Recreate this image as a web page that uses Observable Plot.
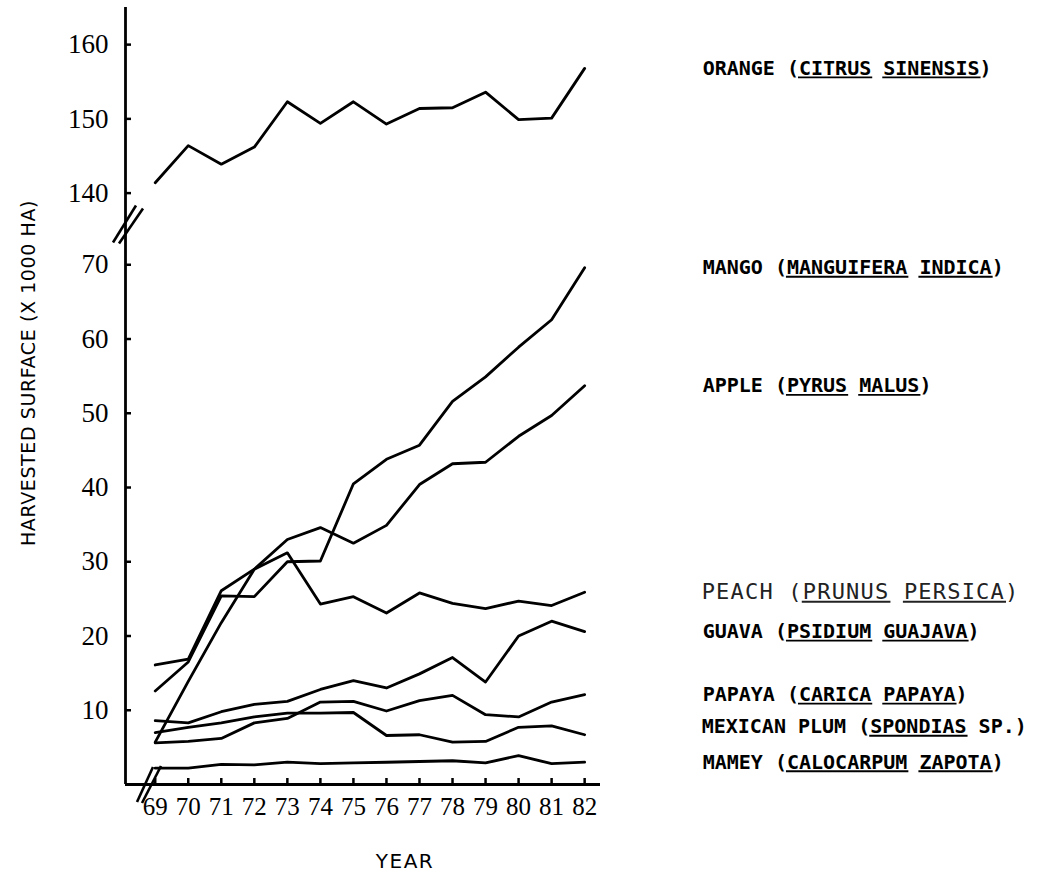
<!DOCTYPE html>
<html><head><meta charset="utf-8">
<script src="https://cdn.jsdelivr.net/npm/d3@7"></script>
<script src="https://cdn.jsdelivr.net/npm/@observablehq/plot@0.6"></script>
<style>
body{margin:0;background:#fff}
#chart svg{display:block}
</style>
</head><body><div id="chart"></div>
<script>
// ---- data (harvested surface, x 1000 ha) ----
const years = [69,70,71,72,73,74,75,76,77,78,79,80,81,82];
const orange = [141.4,146.4,143.9,146.2,152.3,149.4,152.3,149.3,151.4,151.5,153.6,149.9,150.1,156.8];
const mango  = [12.6,16.5,25.4,25.3,30.0,30.1,40.5,43.8,45.7,51.6,54.9,58.9,62.6,69.6];
const apple  = [16.1,16.9,26.1,29.0,33.0,34.6,32.5,34.9,40.4,43.2,43.4,46.9,49.7,53.7];
const peach  = [5.7,13.9,21.8,29.0,31.2,24.3,25.3,23.1,25.8,24.4,23.7,24.7,24.1,25.9];
const guava  = [8.6,8.3,9.8,10.8,11.2,12.8,14.0,13.0,14.9,17.1,13.8,20.0,22.0,20.6];
const papaya = [5.6,5.8,6.2,8.3,8.9,11.1,11.2,9.9,11.3,12.0,9.4,9.1,11.1,12.1];
const plum   = [7.0,7.7,8.3,9.1,9.6,9.6,9.7,6.6,6.7,5.7,5.8,7.7,7.9,6.7];
const mamey  = [2.2,2.2,2.7,2.65,3.0,2.8,2.9,3.0,3.1,3.2,2.9,3.9,2.8,3.0];

const commonNames = ["ORANGE","MANGO","APPLE","PEACH","GUAVA","PAPAYA","MEXICAN PLUM","MAMEY"];
const sciNames = ["CITRUS SINENSIS","MANGUIFERA INDICA","PYRUS MALUS","PRUNUS PERSICA","PSIDIUM GUAJAVA","CARICA PAPAYA","SPONDIAS SP.","CALOCARPUM ZAPOTA"];
const yTicks = [10,20,30,40,50,60,70,140,150,160];
const yTitle = "HARVESTED SURFACE (X 1000 HA)";
const xTitle = "YEAR";

// ---- broken y axis: values above the break are shifted down ----
const breakLow = 70, breakHigh = 140, breakGap = 9.65, yTop = 165;
const brk = v => v >= breakHigh ? v - breakHigh + breakLow + breakGap : v;
const unbrk = t => t > breakLow + breakGap / 2 ? t - breakLow - breakGap + breakHigh : t;

// ---- build tables ----
const seriesValues = [orange, mango, apple, peach, guava, papaya, plum, mamey];
const rows = seriesValues.flatMap((vals, i) => vals.map((v, j) => ({series: commonNames[i], year: years[j], value: v, plotted: brk(v)})));
const ends = seriesValues.map((vals, i) => {
  const v = vals[vals.length - 1];
  return {series: commonNames[i], sci: sciNames[i], year: years[years.length - 1], value: v, plotted: brk(v), label: `${commonNames[i]} (${sciNames[i]})`};
});

// ---- layout ----
const W = 1039, H = 877;
const mL = 125, mR = 439, mB = 93, mT = 7;
const mono = "DejaVu Sans Mono";
const serif = "Liberation Serif";
const sans = "DejaVu Sans";
const x0 = 68.1;

const plot = Plot.plot({
  width: W, height: H,
  marginLeft: mL, marginRight: mR, marginBottom: mB, marginTop: mT,
  style: {fontFamily: serif, fontSize: "25px", background: "#fff", color: "#000"},
  x: {domain: [x0, 82.48]},
  y: {domain: [0, brk(yTop)]},
  marks: [
    Plot.axisY({ticks: yTicks.map(brk), tickSize: -6, tickPadding: 23, tickFormat: t => Math.round(unbrk(t)), label: null, strokeWidth: 2.5, fontFamily: serif, fontSize: 27}),
    Plot.axisX({ticks: years, tickSize: -6, tickPadding: 19, tickFormat: d => d, label: null, strokeWidth: 2.5, fontFamily: serif, fontSize: 25}),
    Plot.ruleX([x0], {stroke: "#000", strokeWidth: 2.8}),
    Plot.ruleY([0], {stroke: "#000", strokeWidth: 2.8}),
    Plot.line(rows, {x: "year", y: "plotted", z: "series", stroke: "#000", strokeWidth: 2.8}),
    Plot.text(ends.filter(d => d.series !== "PEACH" && d.series !== "MEXICAN PLUM"), {x: "year", y: "plotted", text: "label", dx: 118, textAnchor: "start", fontFamily: mono, fontSize: 20, fontWeight: "bold", fill: "#000"}),
    Plot.text(ends.filter(d => d.series === "MEXICAN PLUM"), {x: "year", y: "plotted", text: "label", dx: 117, dy: -8, textAnchor: "start", fontFamily: mono, fontSize: 20, fontWeight: "bold", fill: "#000"}),
    Plot.text(ends.filter(d => d.series === "PEACH"), {x: "year", y: "plotted", text: "label", dx: 117, textAnchor: "start", fontFamily: mono, fontSize: 22, fontWeight: "normal", fill: "#222"}),
    Plot.text([yTitle], {frameAnchor: "left", textAnchor: "middle", rotate: -90, dx: -97, dy: -23, fontFamily: sans, fontSize: 19, fill: "#000"}),
    Plot.text([xTitle], {frameAnchor: "bottom", textAnchor: "middle", dx: 42, dy: 83, fontFamily: sans, fontSize: 20, fill: "#000"})
  ]
});

document.getElementById("chart").appendChild(plot);

const svg = d3.select(plot);
const byText = s => svg.selectAll("text").filter(function() { return this.textContent === s; });
byText(yTitle).style("letter-spacing", "0.6px");
byText(xTitle).style("letter-spacing", "1.5px");

// split labels into common name + underlined scientific words
ends.forEach(d => {
  byText(d.label).each(function() {
    const t = d3.select(this);
    if (d.series === "PEACH") t.style("letter-spacing", "1.2px");
    const color = d.series === "PEACH" ? "#222" : "#000";
    t.text(null);
    t.append("tspan").text(d.series + " (");
    const under = [];
    d.sci.split(" ").forEach((w, i) => {
      if (i > 0) t.append("tspan").text(" ");
      const s = t.append("tspan").text(w);
      if (w !== "SP.") under.push(s.node());
    });
    t.append("tspan").text(")");
    // measure words and draw underlines in the text's own coordinate system
    const parent = d3.select(this.parentNode);
    const tr = this.getAttribute("transform");
    const full = this.getBBox();
    const textNode = this;
    under.forEach(node => {
      // character-based extent (robust across renderers)
      const before = [...textNode.childNodes].slice(0, [...textNode.childNodes].indexOf(node))
        .map(n => n.textContent).join("").length;
      const n = node.textContent.length;
      const start = textNode.getStartPositionOfChar(before);
      const end = textNode.getEndPositionOfChar(before + n - 1);
      const yLine = full.y + full.height * 0.9;
      const ln = parent.append("line")
        .attr("x1", start.x - 1).attr("x2", end.x + 1)
        .attr("y1", yLine).attr("y2", yLine)
        .attr("stroke", color)
        .attr("stroke-width", 1.8);
      if (tr) ln.attr("transform", tr);
    });
  });
});

// axis break marks
const xs = plot.scale("x"), ys = plot.scale("y");
const ax = xs.apply(x0);
const byMid = (ys.apply(breakLow) + ys.apply(breakLow + breakGap)) / 2 - 4;
const g = svg.append("g").attr("stroke", "#000").attr("stroke-width", 2.6).attr("fill", "none");
[[-12, 18, 11, -19], [-6, 19, 18, -16]].forEach(([a, b, c, d]) => {
  g.append("line").attr("x1", ax + a).attr("y1", byMid + b).attr("x2", ax + c).attr("y2", byMid + d);
});
const bx = ax + 24, bxy = ys.apply(0);
[[-12, 18, 4, -17], [-7, 19, 12, -18]].forEach(([a, b, c, d]) => {
  g.append("line").attr("x1", bx + a).attr("y1", bxy + b).attr("x2", bx + c).attr("y2", bxy + d);
});
</script>
</body></html>
